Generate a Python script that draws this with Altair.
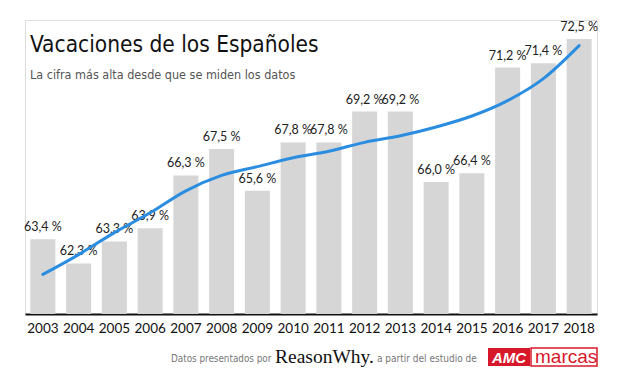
import altair as alt
import pandas as pd

years = ["2003", "2004", "2005", "2006", "2007", "2008", "2009", "2010",
         "2011", "2012", "2013", "2014", "2015", "2016", "2017", "2018"]
values = [63.4, 62.3, 63.3, 63.9, 66.3, 67.5, 65.6, 67.8,
          67.8, 69.2, 69.2, 66.0, 66.4, 71.2, 71.4, 72.5]
trend = [61.8, 62.7, 63.7, 64.6, 65.6, 66.3, 66.7, 67.1,
         67.4, 67.8, 68.1, 68.5, 69.0, 69.7, 70.7, 72.2]

title_text = "Vacaciones de los Españoles"
subtitle_text = "La cifra más alta desde que se miden los datos"

df = pd.DataFrame({
    "year": years,
    "value": values,
    "trend": trend,
    "label": [f"{v:.1f}".replace(".", ",") + " %" for v in values],
})

W, H = 572, 294
YMIN, YMAX = 60, 60 + H / 22.0
COND = "DejaVu Sans Condensed, Roboto Condensed, Arial Narrow, sans-serif"

x = alt.X("year:N", title=None,
          scale=alt.Scale(paddingInner=0.3, paddingOuter=0.15),
          axis=alt.Axis(labelAngle=0, ticks=False, domainColor="#111111",
                        domainWidth=2, labelFontSize=13.5, labelColor="#111111",
                        labelFont="Lato", labelPadding=7))
y = alt.Y("value:Q", title=None, axis=None,
          scale=alt.Scale(domain=[YMIN, YMAX], zero=False, nice=False))

base = alt.Chart(df)
bars = base.mark_bar(color="#d6d6d6", clip=True).encode(x=x, y=y, y2=alt.datum(YMIN))
labels = base.mark_text(baseline="bottom", dy=-5, fontSize=12.5, color="#222222",
                        font="Lato").encode(x=x, y=y, text="label:N")
line = base.mark_line(color="#2b8de0", strokeWidth=3, interpolate="monotone",
                      strokeCap="round").encode(x=x, y=alt.Y("trend:Q", scale=alt.Scale(domain=[YMIN, YMAX], zero=False, nice=False), axis=None))

one = pd.DataFrame({"a": [0]})
def txt(text, px, py, **kw):
    return alt.Chart(one).mark_text(text=text, align="left", baseline="alphabetic", **kw).encode(
        x=alt.value(px), y=alt.value(py))

title = txt(title_text, 5, 32, fontSize=22.5, font=COND, fontWeight=300, color="#111111")
subtitle = txt(subtitle_text, 5, 59, fontSize=12.5, font=COND, color="#555555")
f1 = txt("Datos presentados por", 146, 342, fontSize=9.8, font=COND, color="#777777")
f2 = txt("ReasonWhy.", 250, 343, fontSize=19.5, font="Liberation Serif", color="#111111")
f3 = txt("a partir del estudio de", 352, 342, fontSize=10, font=COND, color="#777777")

logo_red = alt.Chart(one).mark_rect(color="#d7182a").encode(
    x=alt.value(463), x2=alt.value(505), y=alt.value(328), y2=alt.value(346))
logo_box = alt.Chart(one).mark_rect(fill="white", stroke="#d7182a", strokeWidth=1.5).encode(
    x=alt.value(506), x2=alt.value(572), y=alt.value(328), y2=alt.value(346))
logo_amc = txt("AMC", 467, 343, fontSize=15, font="Liberation Sans", fontWeight="bold",
               fontStyle="italic", color="white")
logo_marcas = txt("marcas", 510, 343, fontSize=19, font="Liberation Sans", color="#d7182a")

chart = alt.layer(bars, labels, line, title, subtitle, f1, f2, f3,
                  logo_red, logo_box, logo_amc, logo_marcas).properties(
    width=W, height=H,
    autosize=alt.AutoSizeParams(type="none"),
    padding={"left": 17, "top": 12, "right": 15, "bottom": 59},
).configure_view(stroke=None).configure(background="white")

chart.save("out.html", embed_options={"renderer": "svg", "actions": False})
